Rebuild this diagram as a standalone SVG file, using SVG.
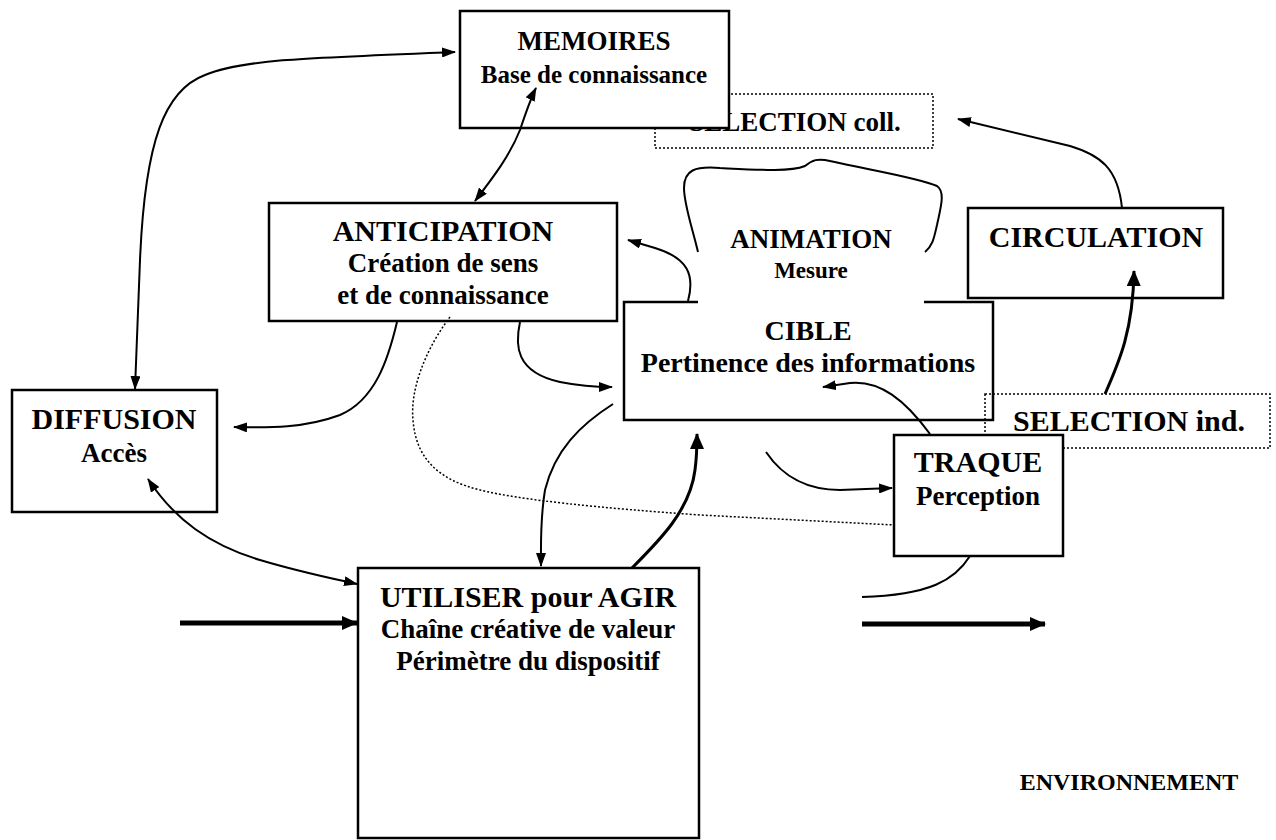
<svg xmlns="http://www.w3.org/2000/svg" width="1276" height="840" viewBox="0 0 1276 840">
<defs>
<style>
.box{fill:#fff;stroke:#000;stroke-width:2.5}
.dot{fill:none;stroke:#000;stroke-width:1.5;stroke-dasharray:2,2}
.t{font-family:"Liberation Serif","Times New Roman",serif;font-weight:bold;fill:#000;text-anchor:middle}
.ln{fill:none;stroke:#000;stroke-width:2}
.th{fill:none;stroke:#000;stroke-width:3}
.big{fill:none;stroke:#000;stroke-width:5}
</style>
<marker id="ah" viewBox="0 0 14 10" refX="13" refY="5" markerWidth="14" markerHeight="10" orient="auto-start-reverse" markerUnits="userSpaceOnUse"><path d="M0,0 L14,5 L0,10 z" fill="#000"/></marker>
<marker id="ahb" viewBox="0 0 16 14" refX="15" refY="7" markerWidth="16" markerHeight="14" orient="auto-start-reverse" markerUnits="userSpaceOnUse"><path d="M0,0 L16,7 L0,14 z" fill="#000"/></marker>
</defs>
<rect width="1276" height="840" fill="#fff"/>

<g id="selection-coll">
<rect class="dot" x="655" y="94" width="278" height="54"/>
<text class="t" x="795" y="131" font-size="27">SELECTION coll.</text>
</g>
<g id="memoires">
<rect class="box" x="460" y="11" width="269" height="117"/>
<text class="t" x="594" y="50" font-size="27">MEMOIRES</text>
<text class="t" x="594" y="83" font-size="25">Base de connaissance</text>
</g>
<g id="anticipation">
<rect class="box" x="269" y="203" width="348" height="118"/>
<text class="t" x="443" y="241" font-size="30">ANTICIPATION</text>
<text class="t" x="443" y="272" font-size="27">Création de sens</text>
<text class="t" x="443" y="304" font-size="27">et de connaissance</text>
</g>
<g id="circulation">
<rect class="box" x="968" y="208" width="255" height="90"/>
<text class="t" x="1096" y="247" font-size="30">CIRCULATION</text>
</g>
<g id="cible">
<path class="box" d="M698,302 L624,302 L624,420 L993,420 L993,302 L924,302"/>
<text class="t" x="808" y="340" font-size="28">CIBLE</text>
<text class="t" x="808" y="372" font-size="28">Pertinence des informations</text>
</g>
<g id="animation">
<path class="ln" d="M698,252 C693,230 684,205 684,188 C684,170 695,166 720,168 C760,170 790,172 805,166 C812,160 818,158 830,161 C870,170 920,178 937,186 C946,192 940,210 937,225 C934,238 933,245 925,252"/>
<text class="t" x="811" y="248" font-size="27">ANIMATION</text>
<text class="t" x="811" y="278" font-size="23">Mesure</text>
</g>
<g id="selection-ind">
<rect class="dot" x="985" y="394" width="285" height="54"/>
<text class="t" x="1129" y="431" font-size="30">SELECTION ind.</text>
</g>
<g id="traque">
<rect class="box" x="894" y="435" width="169" height="121"/>
<text class="t" x="978" y="472" font-size="30">TRAQUE</text>
<text class="t" x="978" y="505" font-size="27">Perception</text>
</g>
<g id="diffusion">
<rect class="box" x="12" y="390" width="205" height="122"/>
<text class="t" x="114" y="429" font-size="30">DIFFUSION</text>
<text class="t" x="114" y="462" font-size="27">Accès</text>
</g>
<g id="utiliser">
<rect class="box" x="358" y="568" width="341" height="270"/>
<text class="t" x="528" y="607" font-size="30">UTILISER pour AGIR</text>
<text class="t" x="528" y="638" font-size="27">Chaîne créative de valeur</text>
<text class="t" x="528" y="670" font-size="27">Périmètre du dispositif</text>
</g>
<g id="environnement">
<text class="t" x="1129" y="790" font-size="24">ENVIRONNEMENT</text>
</g>

<g id="connectors">
<path class="ln" marker-start="url(#ah)" marker-end="url(#ah)" d="M135,389 L140,260 C145,140 165,90 205,75 C240,60 300,58 455,52"/>
<path class="ln" marker-start="url(#ah)" marker-end="url(#ah)" d="M475,201 C495,175 510,155 520,130 C525,115 530,100 536,88"/>
<path class="ln" marker-end="url(#ah)" d="M1122,208 C1118,168 1100,155 1070,146 L958,119"/>
<path class="th" marker-end="url(#ahb)" d="M1105,394 C1120,360 1133,330 1134,271"/>
<path class="ln" marker-end="url(#ah)" d="M688,301 C695,275 688,258 655,248 L628,240"/>
<path class="ln" marker-end="url(#ah)" d="M397,322 C388,360 375,400 340,415 C305,428 270,428 234,427"/>
<path class="ln" marker-end="url(#ah)" d="M520,322 C515,345 515,372 560,382 C580,386 595,387 612,387"/>
<path class="dot" d="M450,317 C425,350 410,390 413,420 C416,460 440,480 480,490 C520,500 600,508 700,515 L894,525"/>
<path class="ln" marker-start="url(#ah)" marker-end="url(#ah)" d="M148,479 C175,520 210,545 260,560 C300,572 330,578 357,584"/>
<path class="ln" marker-end="url(#ah)" d="M613,404 C580,425 555,450 545,490 C540,520 541,545 541,566"/>
<path class="th" marker-end="url(#ahb)" d="M632,568 C660,540 690,510 695,470 C697,455 697,445 697,434"/>
<path class="ln" marker-end="url(#ah)" d="M930,434 C905,400 880,380 850,383 L823,387"/>
<path class="ln" marker-end="url(#ah)" d="M766,452 C785,480 810,490 840,490 L892,488"/>
<path class="ln" d="M970,556 C955,580 930,595 862,597"/>
<path class="big" marker-end="url(#ahb)" d="M180,623 L357,623"/>
<path class="big" marker-end="url(#ahb)" d="M862,624 L1045,624"/>
</g>
</svg>
